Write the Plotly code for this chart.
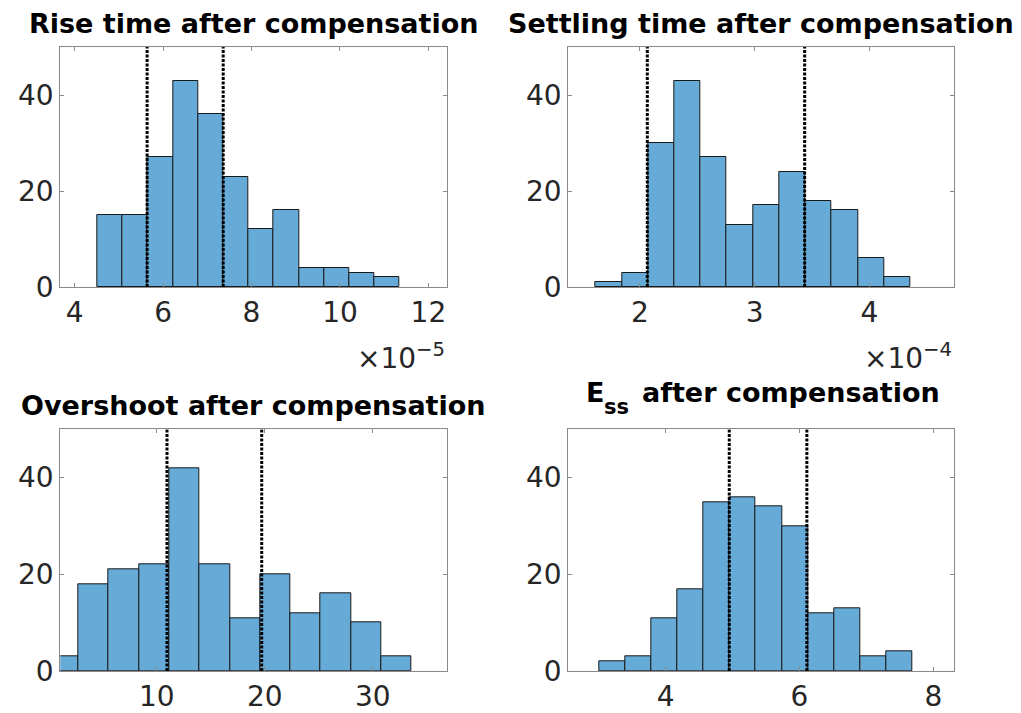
import numpy as np
import plotly.graph_objects as go

# ---- histogram data (counts per bin, uniform bins) ----
rise_counts = [15, 15, 27, 43, 36, 23, 12, 16, 4, 4, 3, 2]
rise_bin_start = 4.513e-5
rise_bin_width = 0.5698e-5
rise_limits = [5.64e-5, 7.36e-5]

settle_counts = [1, 3, 30, 43, 27, 13, 17, 24, 18, 16, 6, 2]
settle_bin_start = 1.614e-4
settle_bin_width = 0.2286e-4
settle_limits = [2.064e-4, 3.436e-4]

over_counts = [3, 18, 21, 22, 42, 22, 11, 20, 12, 16, 10, 3]
over_bin_start = -0.06
over_bin_width = 2.805
over_limits = [10.95, 19.72]

ess_counts = [2, 3, 11, 17, 35, 36, 34, 30, 12, 13, 3, 4]
ess_bin_start = 3.0
ess_bin_width = 0.391
ess_limits = [4.95, 6.11]

titles = [
    "Rise time after compensation",
    "Settling time after compensation",
    "Overshoot after compensation",
    None,  # E_ss title is assembled from pieces below
]

W, H = 1021, 713
BAR = "#66aad7"
AX = "#8a8a8a"
TXT = "#262626"
FONT = "DejaVu Sans"

# axes boxes in pixels: left, right, top, bottom
boxes = [
    (60.3, 447.0, 47.0, 287.0),
    (568.3, 954.3, 47.0, 287.0),
    (60.3, 446.7, 429.3, 671.0),
    (568.3, 954.3, 429.3, 671.0),
]

panels = [
    dict(counts=rise_counts, start=rise_bin_start, width=rise_bin_width,
         lines=rise_limits, scale=1e5, xrange=[3.677, 12.42], xticks=[4, 6, 8, 10, 12],
         exp="-5"),
    dict(counts=settle_counts, start=settle_bin_start, width=settle_bin_width,
         lines=settle_limits, scale=1e4, xrange=[1.375, 4.741], xticks=[2, 3, 4],
         exp="-4"),
    dict(counts=over_counts, start=over_bin_start, width=over_bin_width,
         lines=over_limits, scale=1.0, xrange=[1.07, 36.85], xticks=[10, 20, 30],
         exp=None),
    dict(counts=ess_counts, start=ess_bin_start, width=ess_bin_width,
         lines=ess_limits, scale=1.0, xrange=[2.544, 8.314], xticks=[4, 6, 8],
         exp=None),
]

fig = go.Figure()
annotations = []
shapes = []


def label(text, x_px, y_px, size, xanchor="center", color="black"):
    """Text placed in pixel coordinates (y_px = bottom edge of the text box)."""
    annotations.append(dict(
        text=text, xref="paper", yref="paper",
        x=x_px / W, y=1 - y_px / H,
        xanchor=xanchor, yanchor="bottom", showarrow=False,
        font=dict(family=FONT, size=size, color=color),
    ))


for i, (p, box, title) in enumerate(zip(panels, boxes, titles)):
    n = i + 1
    xa = "x" if n == 1 else f"x{n}"
    ya = "y" if n == 1 else f"y{n}"
    left, right, top, bottom = box
    xdom = [left / W, right / W]
    ydom = [1 - bottom / H, 1 - top / H]

    counts = np.array(p["counts"])
    edges = p["start"] + p["width"] * np.arange(len(counts) + 1)
    centers = (edges[:-1] + edges[1:]) / 2 * p["scale"]
    fig.add_trace(go.Bar(
        x=centers, y=counts, width=p["width"] * p["scale"],
        marker=dict(color=BAR, line=dict(color="#1a1a1a", width=1)),
        xaxis=xa, yaxis=ya, showlegend=False,
    ))

    axis_common = dict(
        showline=True, linecolor=AX, linewidth=1, mirror="ticks",
        ticks="inside", ticklen=4, tickcolor=AX, tickwidth=1,
        showgrid=False, zeroline=False, automargin=False,
        tickfont=dict(family=FONT, size=28, color=TXT),
    )
    fig.update_layout(**{
        ("xaxis" if n == 1 else f"xaxis{n}"): dict(
            domain=xdom, range=p["xrange"], tickvals=p["xticks"],
            anchor=ya, **axis_common),
        ("yaxis" if n == 1 else f"yaxis{n}"): dict(
            domain=ydom, range=[0, 50], tickvals=[0, 20, 40],
            anchor=xa, **axis_common),
    })

    # mean +/- std markers
    for v in p["lines"]:
        shapes.append(dict(
            type="line", xref=xa, yref=ya,
            x0=v * p["scale"], x1=v * p["scale"], y0=0, y1=50,
            line=dict(color="black", width=3, dash="3px,1.5px"),
        ))

    if title:
        label(f"<b>{title}</b>", (left + right) / 2, top - 6, 27)

    if p["exp"]:
        annotations.append(dict(
            text=f"×10<sup>{p['exp'].replace('-', '−')}</sup>",
            xref="paper", yref="paper",
            x=right / W, y=1 - 336 / H,
            xanchor="right", yanchor="top", showarrow=False,
            font=dict(family=FONT, size=28, color=TXT),
        ))

# E_ss title with a full-size, lowered subscript
label("<b>E</b>", 584, 410, 27, xanchor="left")
label("<b>ss</b>", 602, 421, 21, xanchor="left")
label("<b>after compensation</b>", 640, 410, 27, xanchor="left")

fig.update_layout(
    width=W, height=H, autosize=False,
    margin=dict(l=0, r=0, t=0, b=0),
    paper_bgcolor="white", plot_bgcolor="white",
    bargap=0,
    shapes=shapes, annotations=annotations,
)

fig.write_html("out.html", config={"responsive": False})
